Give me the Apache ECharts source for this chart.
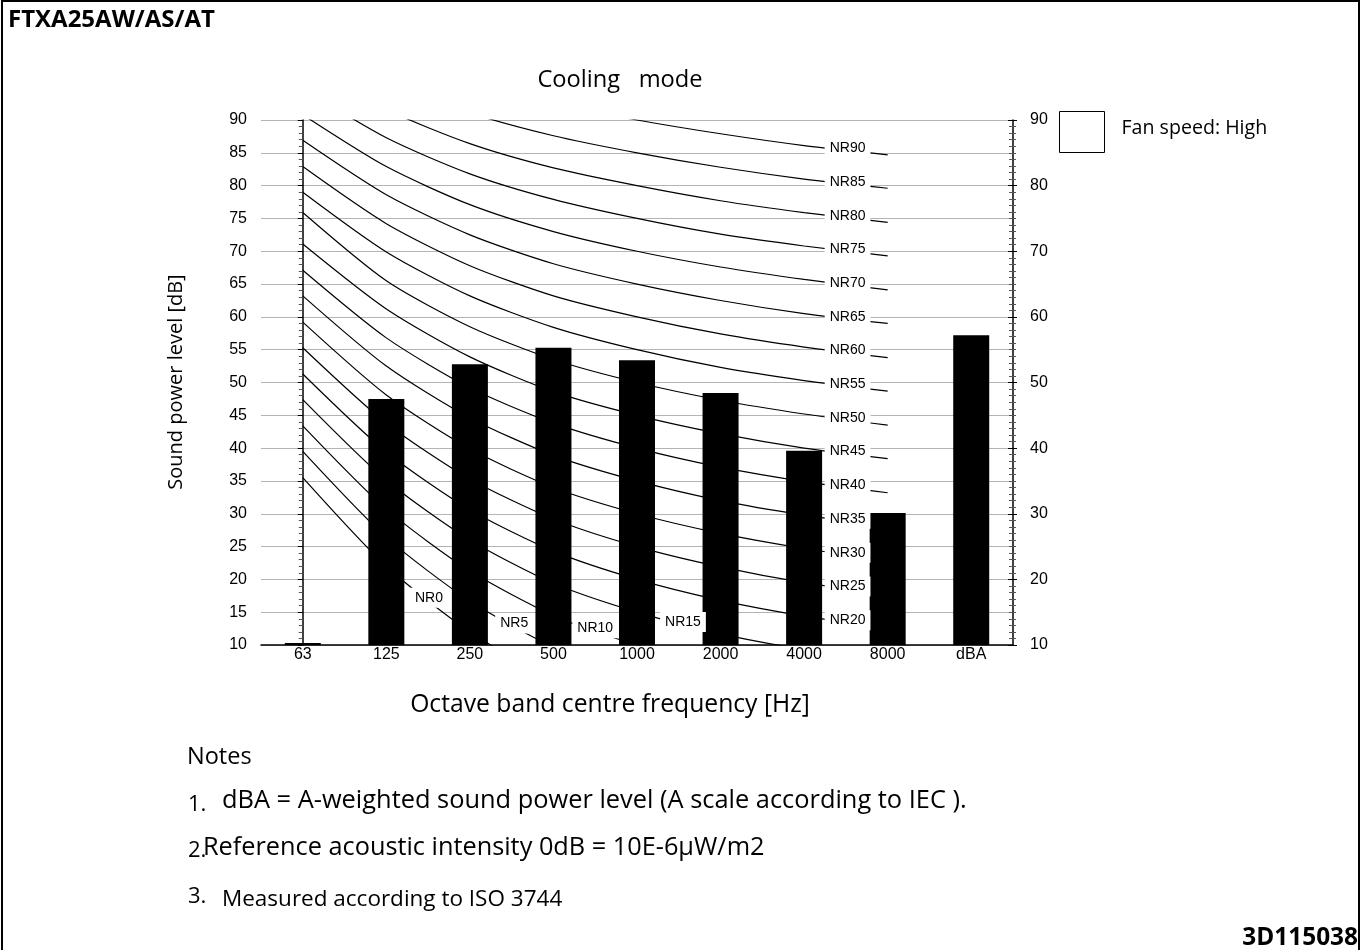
<!DOCTYPE html>
<html>
<head>
<meta charset="utf-8">
<script src="https://cdn.jsdelivr.net/npm/echarts@6/dist/echarts.min.js"></script>
<style>
html,body{margin:0;padding:0;background:#fff;}
#chart{width:1362px;height:950px;}
</style>
</head>
<body>
<div id="chart"></div>
<script>
// ---- data ----
const categories = ['63', '125', '250', '500', '1000', '2000', '4000', '8000', 'dBA'];
const soundPowerHigh = [10.3, 47.5, 52.8, 55.3, 53.4, 48.4, 39.6, 30.1, 57.2];
const leftTicks = [10, 15, 20, 25, 30, 35, 40, 45, 50, 55, 60, 65, 70, 75, 80, 85, 90];
const rightTicks = [10, 20, 30, 40, 50, 60, 70, 80, 90];

// NR curves, values at 63..8000 Hz
const NR0  = [35.5, 22.0, 12.0, 4.8, 0, -3.5, -6.1, -8.0];
const NR5  = [39.5, 26.4, 16.7, 9.7, 5, 1.6, -1.0, -2.9];
const NR10 = [43.4, 30.7, 21.3, 14.5, 10, 6.7, 4.2, 2.3];
const NR15 = [47.4, 35.1, 26.0, 19.4, 15, 11.7, 9.3, 7.5];
const NR20 = [51.3, 39.4, 30.6, 24.3, 20, 16.8, 14.4, 12.6];
const NR25 = [55.3, 43.8, 35.3, 29.2, 25, 21.9, 19.5, 17.8];
const NR30 = [59.2, 48.1, 39.9, 34.0, 30, 27.0, 24.7, 22.9];
const NR35 = [63.2, 52.5, 44.6, 38.9, 35, 32.0, 29.8, 28.1];
const NR40 = [67.1, 56.8, 49.2, 43.8, 40, 37.1, 34.9, 33.2];
const NR45 = [71.1, 61.2, 53.9, 48.6, 45, 42.2, 40.0, 38.4];
const NR50 = [75.9, 65.5, 58.5, 53.5, 50, 47.3, 45.2, 43.5];
const NR55 = [79.0, 69.9, 63.2, 58.4, 55, 52.3, 50.3, 48.7];
const NR60 = [82.9, 74.2, 67.8, 63.2, 60, 57.4, 55.4, 53.8];
const NR65 = [86.9, 78.6, 72.5, 68.1, 65, 62.5, 60.5, 59.0];
const NR70 = [90.8, 82.9, 77.1, 73.0, 70, 67.6, 65.7, 64.1];
const NR75 = [94.8, 87.3, 81.8, 77.9, 75, 72.6, 70.8, 69.3];
const NR80 = [98.7, 91.6, 86.4, 82.7, 80, 77.7, 75.9, 74.4];
const NR85 = [102.7, 96.0, 91.1, 87.6, 85, 82.8, 81.0, 79.6];
const NR90 = [106.6, 100.3, 95.7, 92.5, 90, 87.9, 86.1, 84.7];
const nrNames = ['NR0','NR5','NR10','NR15','NR20','NR25','NR30','NR35','NR40','NR45','NR50','NR55','NR60','NR65','NR70','NR75','NR80','NR85','NR90'];
const nrCurves = [NR0, NR5, NR10, NR15, NR20, NR25, NR30, NR35, NR40, NR45, NR50, NR55, NR60, NR65, NR70, NR75, NR80, NR85, NR90];

// ---- layout ----
const CAL = '"Open Sans", Lato, sans-serif';
const ARI = '"Liberation Sans", Arial, sans-serif';
// label anchor (fractional band index) for each NR curve label
const labelPos = nrNames.map((n, i) => i === 0 ? 1.51 : i === 1 ? 2.53 : i === 2 ? 3.5 : i === 3 ? 4.55 : 6.52);

function curveAt(arr, x) {
  const i = Math.floor(x), f = x - i;
  return arr[i] + (arr[i + 1] - arr[i]) * f;
}

const lineSeries = nrCurves.map((arr, k) => ({
  name: nrNames[k],
  type: 'line',
  xAxisIndex: 1,
  yAxisIndex: 0,
  data: arr.map((v, i) => [i, v]),
  symbol: 'none',
  smooth: 0.25,
  silent: true,
  z: 1,
  lineStyle: { color: '#000', width: 1.2 }
}));

const labelData = nrNames.map((n, k) => [labelPos[k], curveAt(nrCurves[k], labelPos[k]), n]);

function txt(x, y, text, size, opts) {
  opts = opts || {};
  return { type: 'text', x: x, y: y, rotation: opts.rotation || 0, silent: true,
    style: { text: text, font: (opts.bold ? 'bold ' : '') + size + 'px ' + CAL, fill: '#000',
      align: opts.align || 'left', verticalAlign: 'middle' } };
}

const chart = echarts.init(document.getElementById('chart'), null, { renderer: 'canvas' });
chart.setOption({
  animation: false,
  backgroundColor: '#fff',
  grid: { left: 261, right: 349, top: 120, bottom: 305, containLabel: false },
  legend: {
    data: ['Fan speed: High'],
    left: 1059, top: 111, padding: 0,
    icon: 'rect',
    itemWidth: 45, itemHeight: 41,
    itemStyle: { color: '#fff', borderColor: '#000', borderWidth: 1 },
    formatter: '{t|{name}}',
    textStyle: {
      fontFamily: CAL, fontSize: 19.6, color: '#000', padding: [0, 0, 0, 12],
      rich: { t: { fontFamily: CAL, fontSize: 19.6, color: '#000', padding: [0, 0, 8, 0] } }
    },
    selectedMode: false
  },
  xAxis: [
    {
      type: 'category', data: categories, position: 'bottom',
      axisLine: { lineStyle: { color: '#000', width: 1.5 } },
      axisTick: { show: false },
      axisLabel: { color: '#000', fontFamily: ARI, fontSize: 16, margin: 2 },
      splitLine: { show: false }
    },
    { type: 'value', min: -0.5, max: 8.5, show: false }
  ],
  yAxis: [
    {
      type: 'value', position: 'left', min: 10, max: 90, interval: 5,
      axisLine: { show: true, lineStyle: { color: '#000', width: 1.5 } },
      axisTick: { show: true, length: 5, lineStyle: { color: '#000' } },
      minorTick: { show: true, splitNumber: 5, length: 4, lineStyle: { color: '#555' } },
      axisLabel: { color: '#000', fontFamily: ARI, fontSize: 16, margin: 14,
        formatter: v => leftTicks.includes(v) ? String(v) : '' },
      splitLine: { show: true, lineStyle: { color: '#b4b4b4', width: 1 } }
    },
    {
      type: 'value', position: 'right', min: 10, max: 90, interval: 10,
      axisLine: { show: true, lineStyle: { color: '#000', width: 1.5 } },
      axisTick: { show: true, length: 4, lineStyle: { color: '#000' } },
      minorTick: { show: true, splitNumber: 10, length: 3, lineStyle: { color: '#555' } },
      axisLabel: { color: '#000', fontFamily: ARI, fontSize: 16, margin: 17,
        formatter: v => rightTicks.includes(v) ? String(v) : '' },
      splitLine: { show: false }
    },
    {
      type: 'value', position: 'right', min: 10, max: 90, interval: 10,
      axisLine: { show: false },
      axisTick: { show: true, inside: true, length: 5, lineStyle: { color: '#000' } },
      minorTick: { show: true, splitNumber: 10, length: 4, lineStyle: { color: '#555' } },
      axisLabel: { show: false },
      splitLine: { show: false }
    }
  ],
  series: [
    ...lineSeries,
    {
      name: 'Fan speed: High',
      type: 'bar',
      xAxisIndex: 0, yAxisIndex: 0,
      data: soundPowerHigh,
      barWidth: 36,
      z: 2,
      itemStyle: { color: '#000' }
    },
    {
      name: 'labels',
      type: 'scatter',
      xAxisIndex: 1, yAxisIndex: 0,
      data: labelData,
      symbolSize: 0,
      silent: true,
      z: 5,
      itemStyle: { opacity: 1, color: '#fff' },
      label: {
        show: true, position: 'inside', offset: [0, -2],
        formatter: p => p.value[2],
        color: '#000', fontFamily: ARI, fontSize: 14,
        backgroundColor: '#fff', padding: [3, 5]
      }
    }
  ],
  graphic: [
    { type: 'rect', silent: true, shape: { x: 2, y: 1, width: 1357, height: 1000 },
      style: { fill: 'none', stroke: '#000', lineWidth: 2 } },
    txt(8, 20, 'FTXA25AW/AS/AT', 24, { bold: true }),
    txt(620, 80, 'Cooling   mode', 23.7, { align: 'center' }),
    txt(176, 382, 'Sound power level [dB]', 20, { align: 'center', rotation: Math.PI / 2 }),
    txt(610, 705, 'Octave band centre frequency [Hz]', 24.7, { align: 'center' }),
    txt(187, 757, 'Notes', 23.5),
    txt(188, 805, '1.', 22),
    txt(222, 801, 'dBA = A-weighted sound power level (A scale according to IEC ).', 25.4),
    txt(188, 851, '2.', 22),
    txt(203, 848, 'Reference acoustic intensity 0dB = 10E-6µW/m2', 25.3),
    txt(188, 897, '3.', 22),
    txt(222, 900, 'Measured according to ISO 3744', 22.5),
    txt(1358, 938, '3D115038', 24.4, { bold: true, align: 'right' })
  ]
});
</script>
</body>
</html>
